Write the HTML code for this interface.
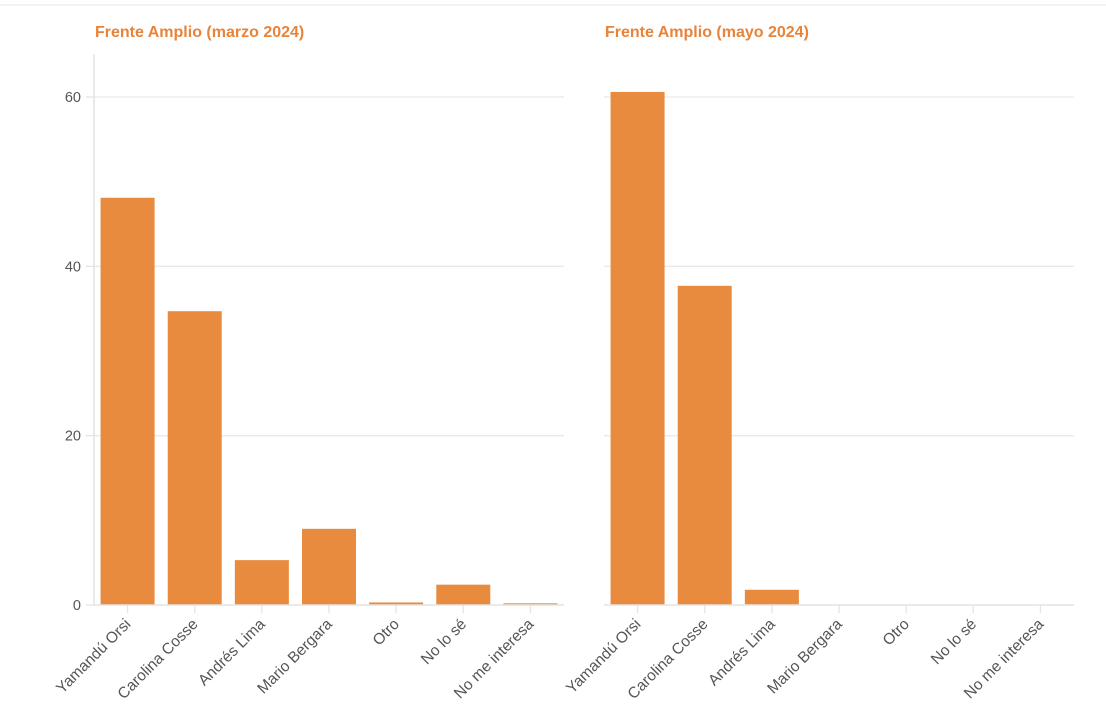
<!DOCTYPE html>
<html><head><meta charset="utf-8"><style>
body{margin:0;background:#fff;font-family:"Liberation Sans",sans-serif}
svg text{font-family:"Liberation Sans",sans-serif}
</style></head><body>
<svg id="c" width="1106" height="719">
<line x1="0" y1="5" x2="1106" y2="5" stroke="#eeeeee" stroke-width="1.5"/>
</svg>
<script>
const categories = ["Yamandú Orsi","Carolina Cosse","Andrés Lima","Mario Bergara","Otro","No lo sé","No me interesa"];
const marchValues = [48.1, 34.7, 5.3, 9.0, 0.3, 2.4, 0.2];
const mayValues = [60.6, 37.7, 1.8, 0, 0, 0, 0];
const yTicks = [0, 20, 40, 60];
const panelTitles = ["Frente Amplio (marzo 2024)", "Frente Amplio (mayo 2024)"];

const svg = document.getElementById('c');
const NS = 'http://www.w3.org/2000/svg';
function mk(t, a){const e=document.createElementNS(NS,t);for(const k in a)e.setAttribute(k,a[k]);svg.appendChild(e);return e;}
const y0 = 605, pxPerUnit = (605-97)/60;
const y = v => y0 - v*pxPerUnit;

function panel(left, values, title, showY, idx){
  const width = 470, step = width/categories.length, bw = 54;
  const x = i => left + step*i + step/2;
  const t = mk('text',{x:left+1,y:37,fill:'#e8833a','font-size':16,'font-weight':'bold'});
  t.textContent = title;
  
  
  yTicks.forEach(v=>{
    if(v>0){
      const g = mk('line',{x1:left,x2:left+width,y1:y(v),y2:y(v),stroke:'#e9e9e9','stroke-width':1.3});
      
      
    }
    if(showY){
      const tk = mk('line',{x1:left-8,x2:left,y1:y(v),y2:y(v),stroke:'#e4e4e4','stroke-width':1.3});
      
      
      const l = mk('text',{x:left-13,y:y(v)+5,'text-anchor':'end',fill:'#555','font-size':14.5});
      l.textContent = v;
      
      
    }
  });
  if(showY){
    const ax = mk('line',{x1:left,x2:left,y1:54,y2:y0,stroke:'#e4e4e4','stroke-width':1.5});
    
    
  }
  values.forEach((v,i)=>{
    const r = mk('rect',{x:x(i)-bw/2,y:y(v),width:bw,height:y0-y(v),fill:'#e98b3f'});
    
    
  });
  const xa = mk('line',{x1:left,x2:left+width,y1:y0,y2:y0,stroke:'#e4e4e4','stroke-width':1.5});
  
  
  categories.forEach((c,i)=>{
    const tk = mk('line',{x1:x(i),x2:x(i),y1:y0,y2:y0+8,stroke:'#e4e4e4','stroke-width':1.3});
    
    
    const l = mk('text',{x:x(i)+4,y:y0+20,'text-anchor':'end',fill:'#555','font-size':15.5,transform:`rotate(-45 ${x(i)+4} ${y0+20})`});
    l.textContent = c;
    
    
  });
}
panel(94, marchValues, panelTitles[0], true, 'march');
panel(604, mayValues, panelTitles[1], false, 'may');
</script>
</body></html>
